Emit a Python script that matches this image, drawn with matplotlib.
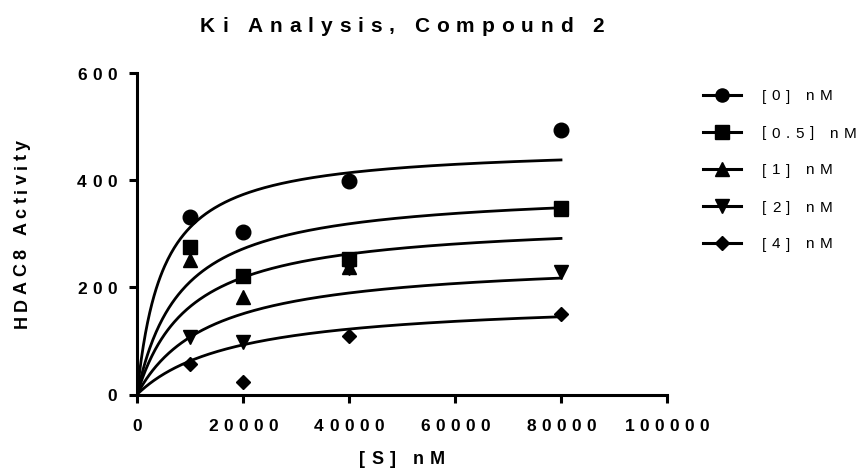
import numpy as np
import matplotlib
matplotlib.use("Agg")
import matplotlib.pyplot as plt
from matplotlib.lines import Line2D
from matplotlib.font_manager import FontProperties, findfont, get_font
from matplotlib.transforms import offset_copy, blended_transform_factory

# data
substrate = [10000, 20000, 40000, 80000]
act_0 = [332, 304, 399, 494]
act_05 = [276, 221, 254, 349]
act_1 = [251, 182, 238, 347]
act_2 = [107, 98, 236, 228]
act_4 = [57, 23, 109, 151]
series = [act_0, act_05, act_1, act_2, act_4]
labels = ["[0] nM", "[0.5] nM", "[1] nM", "[2] nM", "[4] nM"]
markers = ["o", "s", "^", "v", "D"]
msizes = [10.5, 10.5, 10.5, 10.5, 7.5]

# Michaelis-Menten fit parameters (Vmax, Km) for each inhibitor level
fit_vmax = [465, 385, 328, 255, 179]
fit_km = [4900, 8300, 10000, 13800, 18600]

x_ticks = [0, 20000, 40000, 60000, 80000, 100000]
y_ticks = [0, 200, 400, 600]

W, H = 863, 470
fig = plt.figure(figsize=(W / 100, H / 100), dpi=100)
ax = fig.add_axes([137 / W, 1 - 394.5 / H, (667 - 137) / W, (394.5 - 73.3) / H])


def spaced_text(x, y, s, transform, size, weight="bold", spacing=4.0,
                ha="center", rotation=0, dx=0, dy=0):
    """draw text with extra letter spacing (Prism style), centred on caps"""
    prop = FontProperties(family="Liberation Sans", weight=weight, size=size)
    font = get_font(findfont(prop))
    font.set_size(size, 72)
    adv = [font.load_char(ord(c)).linearHoriAdvance / 65536 for c in s]
    total = sum(adv) + spacing * (len(s) - 1)
    pos = {"left": 0, "center": -total / 2, "right": -total}[ha]
    half_cap = 0.36 * size
    for c, a in zip(s, adv):
        if c != " ":
            if rotation == 90:
                ox, oy = dx + half_cap, dy + pos
            else:
                ox, oy = dx + pos, dy - half_cap
            tr = offset_copy(transform, fig=fig, x=ox, y=oy, units="points")
            fig.text(x, y, c, transform=tr, fontproperties=prop, ha="left",
                     va="baseline", rotation=rotation, rotation_mode="anchor")
        pos += a + spacing


# fitted curves
s_fit = np.linspace(0, 80000, 400)
for vmax, km in zip(fit_vmax, fit_km):
    ax.plot(s_fit, vmax * s_fit / (km + s_fit), color="black", lw=2.0, zorder=2)

# data points, first data set in front
for i, vals in enumerate(series):
    ax.plot(substrate, vals, linestyle="none", marker=markers[i], ms=msizes[i],
            color="black", clip_on=False, zorder=10 - i)

ax.set_xlim(0, 100000)
ax.set_ylim(0, 600)
ax.set_xticks(x_ticks)
ax.set_yticks(y_ticks)
for side in ["top", "right"]:
    ax.spines[side].set_visible(False)
for side in ["left", "bottom"]:
    ax.spines[side].set_linewidth(2.2)
ax.tick_params(direction="out", length=5.5, width=2.2, labelbottom=False, labelleft=False)

# tick labels
xt = blended_transform_factory(ax.transData, ax.transAxes)
for v in x_ticks:
    spaced_text(v, 0, str(v), xt, 12.5, spacing=3.9, dy=-22)
yt = blended_transform_factory(ax.transAxes, ax.transData)
for v in y_ticks:
    spaced_text(0, v, str(v), yt, 12.5, spacing=3.9, ha="right", dx=-14.4)

# title and axis labels
spaced_text(402 / W, 1 - 24 / H, "Ki Analysis, Compound 2", fig.transFigure, 15, spacing=5.0)
spaced_text(402 / W, 1 - 457 / H, "[S] nM", fig.transFigure, 13, spacing=4.3)
spaced_text(20 / W, 1 - 234 / H, "HDAC8 Activity", fig.transFigure, 13, spacing=3.1, rotation=90)

# legend
for i, lab in enumerate(labels):
    ly = 1 - (95 + 37 * i) / H
    fig.add_artist(Line2D([703 / W, 722 / W, 741 / W], [ly, ly, ly], transform=fig.transFigure,
                          color="black", lw=2.2, marker=markers[i], markevery=[1],
                          ms=msizes[i] * 0.9))
    spaced_text(762 / W, ly, lab, fig.transFigure, 11, weight="normal", spacing=4.0, ha="left")

fig.savefig("out.png", dpi=100)
